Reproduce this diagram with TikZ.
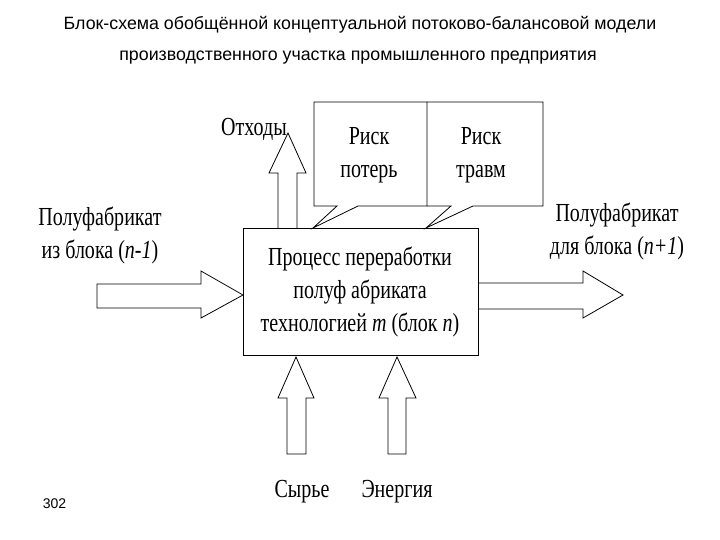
\documentclass[tikz,border=0pt]{standalone}
\usepackage{fontspec}
\setmainfont{Liberation Serif}
\newfontfamily\serc[FakeStretch=0.77]{Liberation Serif}
\newfontfamily\sansf{Liberation Sans}
\begin{document}
\begin{tikzpicture}[x=1pt,y=-1pt,
  lw/.style={line width=0.8pt},
  txt/.style={font=\serc\fontsize{26}{33}\selectfont, inner sep=0pt, align=center},
  ttl/.style={font=\sansf\fontsize{17.8}{20}\selectfont, inner sep=0pt}]
\useasboundingbox (0,0) rectangle (720,540);
% titles
\node[ttl] (t1) at (360,25) {Блок-схема обобщённой концептуальной потоково-балансовой модели};
\node[ttl] (t2) at (358,58) {производственного участка промышленного предприятия};
% main box
\node[draw, lw, minimum width=235pt, minimum height=127pt, inner sep=0pt] (main) at (360.5,291.5) {};
\node[txt] (mt) at (360,292) {Процесс переработки\\полуф абриката\\технологией \textit{m} (блок \textit{n})};
% callouts
\draw[lw] (314,102) -- (427,102) -- (427,206) -- (358,206) -- (313,228) -- (337,206) -- (314,206) -- cycle;
\draw[lw] (427,102) -- (543,102) -- (543,206) -- (473,206) -- (426,228) -- (451,206) -- (427,206);
\node[txt] (r1) at (369,155) {Риск\\потерь};
\node[txt] (r2) at (481,155) {Риск\\травм};
% waste arrow
\draw[lw] (278,228) -- (278,173) -- (269,173) -- (288,133) -- (306,173) -- (297,173) -- (297,228);
\node[txt, anchor=base] (ot) at (254,136) {Отходы};
% left arrow
\draw[lw] (243,295) -- (201,271) -- (201,284) -- (97,284) -- (97,308) -- (201,308) -- (201,318) -- cycle;
\node[txt] (lin) at (100,235) {Полуфабрикат\\из блока (\textit{n-1})};
% right arrow
\draw[lw] (478,283) -- (583,283) -- (583,271) -- (623,295) -- (583,318) -- (583,309) -- (478,309);
\node[txt] (rout) at (617,231) {Полуфабрикат\\для блока (\textit{n+1})};
% bottom arrows
\draw[lw] (296,357) -- (314,398) -- (306,398) -- (306,454) -- (287,454) -- (287,398) -- (278,398) -- cycle;
\draw[lw] (397,357) -- (416,398) -- (406,398) -- (406,454) -- (388,454) -- (388,398) -- (379,398) -- cycle;
\node[txt] (sy) at (302,492) {Сырье};
\node[txt] (en) at (397,492) {Энергия};
\node[font=\sansf\fontsize{14}{16}\selectfont, inner sep=0pt] (pg) at (54.5,504) {302};
\end{tikzpicture}
\end{document}
